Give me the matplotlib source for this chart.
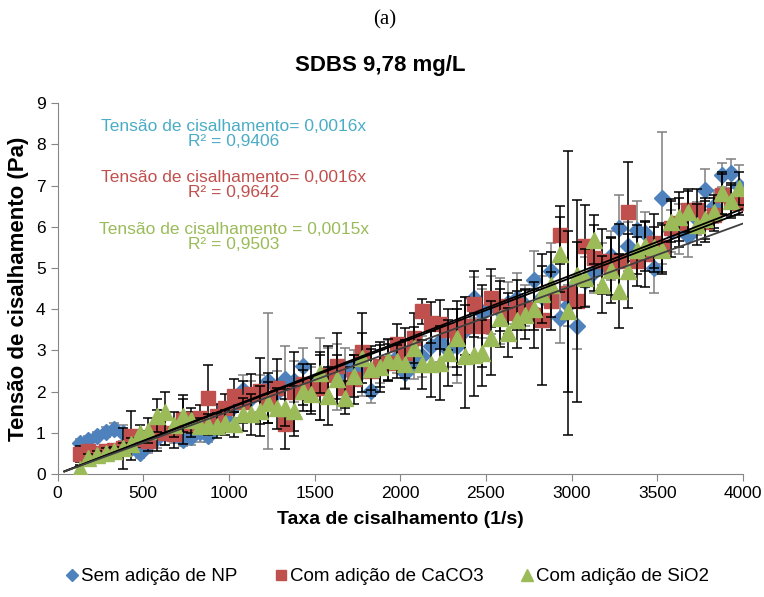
import matplotlib
matplotlib.use("Agg")
import matplotlib.pyplot as plt
from matplotlib.lines import Line2D

plt.rcParams['font.family'] = ['Liberation Sans', 'DejaVu Sans']

# shear rate (1/s)
shear_rate = [130, 180, 230, 280, 330, 380, 430, 480, 530, 580, 630, 680, 730, 780,
              830, 880, 930, 980, 1030, 1080, 1130, 1180, 1230, 1280, 1330, 1380,
              1430, 1480, 1530, 1580, 1630, 1680, 1730, 1780, 1830, 1880, 1930, 1980,
              2030, 2080, 2130, 2180, 2230, 2280, 2330, 2380, 2430, 2480, 2530, 2580,
              2630, 2680, 2730, 2780, 2830, 2880, 2930, 2980, 3030, 3080, 3130, 3180,
              3230, 3280, 3330, 3380, 3430, 3480, 3530, 3580, 3630, 3680, 3730, 3780,
              3830, 3880, 3930, 3980]

# shear stress (Pa) - no NP
stress_np = [0.75, 0.82, 0.92, 1.02, 1.10, 1.00,
             0.62, 0.52, 0.70, 0.88, 1.00, 0.95, 0.82, 0.90, 1.02, 0.93, 1.15,
             1.35, 1.65, 2.05, 1.85, 1.95, 2.26, 2.00, 2.30, 2.25, 2.62, 2.20,
             2.30, 2.45, 2.35, 2.55, 2.60, 2.50, 2.02, 2.60, 2.75, 2.85, 2.45,
             2.70, 2.86, 3.10, 3.23, 3.00, 3.11, 3.50, 4.28, 3.90, 4.10, 3.95,
             4.15, 4.28, 4.10, 4.72, 4.30, 4.92, 3.79, 4.10, 3.59, 4.68, 4.90,
             5.10, 5.30, 5.97, 5.53, 5.93, 5.85, 5.00, 6.70, 5.90, 5.95, 5.77,
             6.20, 6.90, 6.50, 7.26, 7.30, 7.00]
err_np = [0.1, 0.1, 0.1, 0.12, 0.15, 0.2,
          0.1, 0.12, 0.2, 0.25, 0.3, 0.2, 0.15, 0.2, 0.25, 0.15, 0.2,
          0.25, 0.3, 0.35, 0.4, 0.45, 1.65, 0.5, 0.8, 0.5, 0.45, 0.4,
          1.0, 0.6, 0.8, 0.5, 0.4, 0.6, 0.3, 0.4, 0.5, 0.4, 0.35,
          0.4, 0.5, 0.6, 0.5, 0.4, 0.9, 0.8, 0.5, 0.6, 0.7, 0.8,
          0.5, 0.6, 0.5, 0.7, 0.5, 0.7, 0.6, 0.5, 0.55, 0.6, 0.5,
          0.5, 0.6, 0.8, 0.6, 0.7, 0.5, 0.6, 1.6, 0.5, 0.6, 0.5,
          0.4, 0.5, 0.4, 0.3, 0.35, 0.5]

# CaCO3
stress_caco3 = [0.48, 0.55, 0.52, 0.55, 0.58, 0.62,
                0.93, 0.85, 0.80, 1.05, 1.00, 0.97, 1.33, 1.20, 1.37, 1.85, 1.40,
                1.60, 1.90, 1.75, 1.94, 2.02, 1.85, 2.10, 1.21, 2.00, 2.18, 2.06,
                2.10, 2.40, 2.62, 2.10, 2.30, 2.95, 2.50, 2.62, 2.70, 3.15, 2.94,
                3.30, 3.95, 3.67, 3.63, 3.50, 3.30, 3.60, 4.12, 3.59, 4.28, 4.08,
                3.90, 4.10, 4.00, 3.85, 3.75, 4.20, 5.81, 4.40, 4.20, 5.53, 5.24,
                5.16, 5.04, 5.16, 6.37, 5.16, 5.35, 5.61, 5.50, 5.97, 6.10, 6.41,
                6.41, 6.13, 6.30, 6.78, 6.66, 6.58]
err_caco3 = [0.2, 0.1, 0.1, 0.12, 0.12, 0.5,
             0.6, 0.2, 0.25, 0.5, 0.3, 0.35, 0.6, 0.3, 0.3, 0.8, 0.3,
             0.35, 0.4, 0.5, 0.5, 0.8, 0.6, 0.7, 0.6, 0.95, 0.5, 0.6,
             0.8, 0.7, 0.8, 0.5, 0.6, 0.96, 0.6, 0.5, 0.45, 0.5, 0.6,
             0.6, 0.3, 0.5, 0.6, 0.5, 0.9, 0.7, 0.8, 1.0, 0.7, 0.6,
             0.5, 0.6, 0.5, 0.8, 1.6, 0.7, 0.7, 3.45, 2.45, 1.0, 0.8,
             0.8, 0.7, 0.9, 1.2, 0.6, 0.8, 0.7, 0.6, 0.7, 0.6, 0.5,
             0.5, 0.5, 0.4, 0.5, 0.4, 0.3]

# SiO2
stress_sio2 = [0.12, 0.38, 0.46, 0.52, 0.56, 0.64,
               0.72, 1.00, 1.05, 1.42, 1.50, 1.20, 1.41, 1.30, 1.17, 1.20, 1.17,
               1.25, 1.21, 1.45, 1.45, 1.53, 1.73, 1.60, 1.61, 1.53, 2.02, 1.94,
               2.46, 1.90, 2.30, 1.85, 2.38, 2.82, 2.54, 2.60, 2.78, 2.74, 2.66,
               3.07, 2.66, 2.66, 2.70, 2.94, 3.31, 2.86, 2.90, 2.94, 3.31, 3.79,
               3.43, 3.75, 3.87, 4.00, 4.36, 4.60, 5.33, 3.95, 4.84, 4.76, 5.69,
               4.60, 4.96, 4.44, 4.92, 5.45, 5.53, 5.50, 5.45, 6.13, 6.25, 6.37,
               6.05, 6.20, 6.37, 6.82, 6.62, 6.94]
err_sio2 = [0.1, 0.1, 0.1, 0.1, 0.1, 0.12,
            0.15, 0.2, 0.3, 0.4, 0.5, 0.3, 0.4, 0.3, 0.2, 0.25, 0.3,
            0.3, 0.3, 0.4, 0.5, 0.6, 0.5, 0.5, 0.45, 0.6, 0.5, 0.4,
            0.5, 0.7, 0.6, 0.4, 0.5, 0.6, 0.5, 0.6, 0.5, 0.4, 0.6,
            0.5, 0.6, 0.8, 0.9, 0.8, 0.7, 1.25, 1.0, 0.8, 0.9, 0.7,
            0.6, 0.7, 0.6, 0.5, 0.7, 0.8, 0.9, 1.95, 0.8, 0.7, 0.6,
            0.7, 0.8, 0.9, 0.9, 0.6, 0.6, 0.5, 0.6, 0.5, 0.6, 0.5,
            0.5, 0.5, 0.4, 0.5, 0.4, 0.4]

labels = ['Sem adição de NP', 'Com adição de CaCO3', 'Com adição de SiO2']
slopes = [0.00161, 0.00159, 0.00152]
eq_texts = ['Tensão de cisalhamento= 0,0016x\nR² = 0,9406',
            'Tensão de cisalhamento= 0,0016x\nR² = 0,9642',
            'Tensão de cisalhamento = 0,0015x\nR² = 0,9503']
trend_x = [40, 4000]

fig = plt.figure(figsize=(7.64, 5.97), dpi=100)
ax = fig.add_axes([0.0753, 0.206, 0.897, 0.621])

series = [
    (stress_np, err_np, 'D', 8.5, '#4F81BD', '#7f7f7f'),
    (stress_caco3, err_caco3, 's', 10, '#C0504D', 'black'),
    (stress_sio2, err_sio2, '^', 11, '#9BBB59', 'black'),
]
for i, (y, e, m, ms, c, ec) in enumerate(series):
    ax.errorbar(shear_rate, y, yerr=e, fmt=m, ms=ms, color=c, mec=c,
                ecolor=ec, elinewidth=1.1, capsize=3.5, capthick=1.1,
                zorder=2 + i)

line_cols = ['black', 'black', '#404040']
for s, lc in zip(slopes, line_cols):
    ax.plot(trend_x, [s * v for v in trend_x], color=lc, lw=1.3, zorder=6)

text_cols = ['#4BACC6', '#C0504D', '#9BBB59']
text_y = [0.776, 0.690, 0.603]
for t, c, yy in zip(eq_texts, text_cols, text_y):
    fig.text(0.306, yy, t, color=c, fontsize=12.5, ha='center', va='center',
             linespacing=1.0)

ax.set_xlim(0, 4000)
ax.set_ylim(0, 9)
ax.set_xticks(range(0, 4001, 500))
ax.set_yticks(range(0, 10))
for sp in ['top', 'right']:
    ax.spines[sp].set_visible(False)
for sp in ['left', 'bottom']:
    ax.spines[sp].set_color('#868686')
ax.tick_params(axis='both', colors='#868686', labelcolor='black',
               labelsize=12.5, length=5, direction='out')

ax.set_xlabel('Taxa de cisalhamento (1/s)', fontsize=14, fontweight='bold')
ax.set_ylabel('Tensão de cisalhamento (Pa)', fontsize=16, fontweight='bold')
ax.xaxis.set_label_coords(0.5, -0.1)
ax.yaxis.set_label_coords(-0.042, 0.5)

fig.text(0.503, 0.967, '(a)', family='Liberation Serif', fontsize=15,
         ha='center', va='center')
fig.text(0.498, 0.891, 'SDBS 9,78 mg/L', fontsize=16, fontweight='bold',
         ha='center', va='center')

handles = [Line2D([], [], ls='none', marker=m, ms=ms * 0.75, color=c)
           for (_, _, m, ms, c, _) in series]
fig.legend(handles, labels, loc='center', bbox_to_anchor=(0.505, 0.034),
           ncol=3, frameon=False, fontsize=13.5, handletextpad=0.0,
           columnspacing=1.8, handlelength=1.0)

fig.savefig('out.png', dpi=100)
